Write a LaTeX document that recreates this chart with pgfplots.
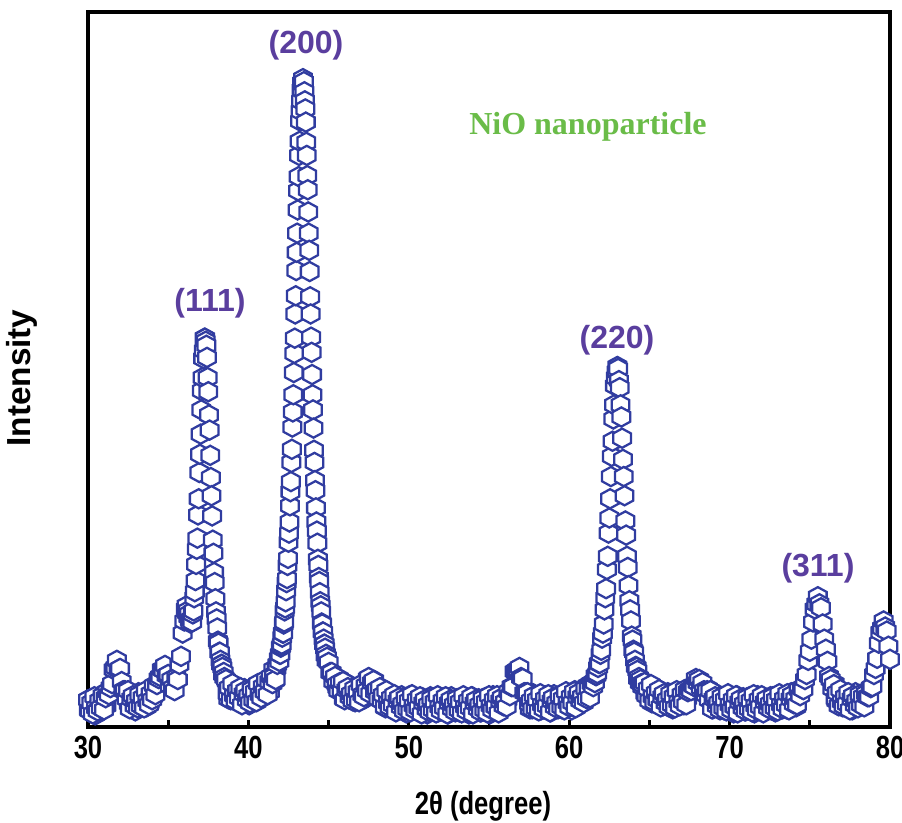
\documentclass[border=0pt]{standalone}
\usepackage{fontspec}
\setmainfont{Liberation Sans}
\newfontfamily\narrowsans[FakeStretch=0.8]{Liberation Sans}
\newfontfamily\timesfont{Liberation Serif}
\usepackage{pgfplots}
\pgfplotsset{compat=1.18}

\definecolor{hexblue}{RGB}{48,60,160}
\definecolor{peakpurple}{RGB}{90,62,158}
\definecolor{nioGreen}{RGB}{106,188,72}

% open hexagon, pointed top
\pgfdeclareplotmark{hex}{%
  \pgfpathmoveto{\pgfqpoint{0pt}{3.6pt}}%
  \pgfpathlineto{\pgfqpoint{3.3pt}{1.8pt}}%
  \pgfpathlineto{\pgfqpoint{3.3pt}{-1.8pt}}%
  \pgfpathlineto{\pgfqpoint{0pt}{-3.6pt}}%
  \pgfpathlineto{\pgfqpoint{-3.3pt}{-1.8pt}}%
  \pgfpathlineto{\pgfqpoint{-3.3pt}{1.8pt}}%
  \pgfpathclose
  \pgfusepathqfillstroke}

\pgfplotsset{hexpts/.style={only marks, mark=hex, mark options={draw=hexblue, fill=white, line width=0.85pt}}}

\begin{document}
\begin{tikzpicture}
\begin{axis}[
  scale only axis,
  width=300.75pt, height=268.125pt,
  xmin=30, xmax=80, ymin=0, ymax=708,
  axis line style={line width=1.6pt},
  xtick={30,40,...,80},
  minor xtick={35,45,...,75},
  xtick pos=bottom, ytick=\empty,
  tick align=inside,
  major tick length=2.6pt, minor tick length=2.6pt,
  tick style={line width=1pt, black},
  /pgf/number format/assume math mode=true,
  xticklabel style={font=\narrowsans\bfseries\fontsize{12}{14}\selectfont},
  xlabel={2θ (degree)},
  xlabel style={at={(axis description cs:0.4925,-0.1105)}, anchor=center, inner sep=0pt,
    font=\narrowsans\bfseries\fontsize{12}{14}\selectfont},
  ylabel={Intensity},
  ylabel style={at={(axis description cs:-0.0823,0.488)}, anchor=center, inner sep=0pt,
    rotate=0, font=\bfseries\fontsize{12.5}{15}\selectfont},
  axis on top,
]
% background scan points between the main steps
\addplot[hexpts] coordinates {
(30.05,17) (30.15,28) (30.25,20) (30.35,26) (30.45,12) (30.55,24) (30.65,30) (30.75,16) (30.85,23) (30.95,21)
(31.05,32) (31.15,21)
(32.45,31) (32.55,23) (32.65,33) (32.75,25) (32.85,30) (32.95,16) (33.05,29) (33.15,34) (33.25,20) (33.35,27)
(33.45,23) (33.55,33) (33.65,20) (33.75,30) (33.85,24) (33.95,36) (34.05,30)
(38.65,45) (38.75,28) (38.85,39) (38.95,43) (39.05,28) (39.15,34) (39.25,29) (39.35,38) (39.45,25) (39.55,33)
(39.65,27) (39.75,38) (39.85,30) (39.95,36) (40.05,22) (40.15,34) (40.25,39) (40.35,26) (40.45,34) (40.55,31)
(40.65,40) (40.75,28) (40.85,38) (40.95,33) (41.05,46) (41.15,39) (41.25,47) (41.35,35) (41.45,49) (41.55,57)
(41.65,46) (41.75,58)
(45.55,39) (45.65,48) (45.75,39) (45.85,43) (45.95,28) (46.05,39) (46.15,43) (46.25,28) (46.35,35) (46.45,30)
(46.55,39) (46.65,25) (46.75,34) (46.85,29) (46.95,40) (47.05,33) (47.15,40) (47.25,28) (47.35,41) (47.45,48)
(47.55,36) (47.65,43) (47.75,39) (47.85,46) (47.95,31) (48.05,38) (48.15,30) (48.25,39) (48.35,29) (48.45,34)
(48.55,19) (48.65,30) (48.75,34) (48.85,20) (48.95,26) (49.05,21) (49.15,30) (49.25,17) (49.35,26) (49.45,20)
(49.55,31) (49.65,22) (49.75,28) (49.85,14) (49.95,26) (50.05,31) (50.15,17) (50.25,24) (50.35,20) (50.45,29)
(50.55,16) (50.65,24) (50.75,18) (50.85,29) (50.95,21) (51.05,27) (51.15,13) (51.25,25) (51.35,30) (51.45,16)
(51.55,23) (51.65,19) (51.75,28) (51.85,15) (51.95,24) (52.05,18) (52.15,29) (52.25,21) (52.35,27) (52.45,13)
(52.55,25) (52.65,30) (52.75,16) (52.85,23) (52.95,19) (53.05,28) (53.15,15) (53.25,24) (53.35,18) (53.45,29)
(53.55,21) (53.65,27) (53.75,13) (53.85,25) (53.95,30) (54.05,16) (54.15,23) (54.25,19) (54.35,28) (54.45,15)
(54.55,24) (54.65,18) (54.75,29) (54.85,21) (54.95,27) (55.05,13) (55.15,26) (55.25,31) (55.35,17) (55.45,24)
(55.55,20) (55.65,29) (55.75,17) (55.85,27) (55.95,21) (56.05,33) (56.15,27)
(57.45,33) (57.55,18) (57.65,29) (57.75,33) (57.85,19) (57.95,25) (58.05,21) (58.15,30) (58.25,17) (58.35,26)
(58.45,20) (58.55,31) (58.65,23) (58.75,29) (58.85,15) (58.95,27) (59.05,32) (59.15,18) (59.25,25) (59.35,22)
(59.45,31) (59.55,18) (59.65,27) (59.75,21) (59.85,33) (59.95,25) (60.05,31) (60.15,17) (60.25,30) (60.35,36)
(60.45,22) (60.55,30) (60.65,27) (60.75,36) (60.85,24) (60.95,34) (61.05,29) (61.15,41) (61.25,35) (61.35,43)
(64.75,33) (64.85,43) (64.95,34) (65.05,39) (65.15,24) (65.25,35) (65.35,39) (65.45,24) (65.55,31) (65.65,26)
(65.75,35) (65.85,21) (65.95,30) (66.05,23) (66.15,34) (66.25,26) (66.35,32) (66.45,18) (66.55,30) (66.65,35)
(66.75,21) (66.85,28) (66.95,24) (67.05,34) (67.15,22) (67.25,32) (67.35,28)
(68.65,38) (68.75,28) (68.85,33) (68.95,18) (69.05,29) (69.15,33) (69.25,19) (69.35,25) (69.45,21) (69.55,30)
(69.65,17) (69.75,26) (69.85,20) (69.95,31) (70.05,23) (70.15,28) (70.25,14) (70.35,26) (70.45,31) (70.55,17)
(70.65,24) (70.75,20) (70.85,29) (70.95,16) (71.05,25) (71.15,19) (71.25,30) (71.35,22) (71.45,28) (71.55,14)
(71.65,26) (71.75,31) (71.85,17) (71.95,24) (72.05,20) (72.15,29) (72.25,16) (72.35,25) (72.45,19) (72.55,30)
(72.65,23) (72.75,29) (72.85,15) (72.95,27) (73.05,32) (73.15,18) (73.25,25) (73.35,21) (73.45,30) (73.55,18)
(73.65,28) (73.75,22) (73.85,34) (73.95,26) (74.05,33) (74.15,20) (74.25,33)
(76.55,43) (76.65,26) (76.75,31) (76.85,26) (76.95,34) (77.05,20) (77.15,29) (77.25,22) (77.35,33) (77.45,25)
(77.55,31) (77.65,17) (77.75,29) (77.85,34) (77.95,20) (78.05,27) (78.15,24) (78.25,33) (78.35,21) (78.45,31)
};
% main scan
\addplot[hexpts] coordinates {
(30.0,27) (30.1,16) (30.2,24) (30.3,13) (30.4,30) (30.5,19) (30.6,16) (30.7,26) (30.8,19) (30.9,31)
(31.0,17) (31.1,29) (31.2,35) (31.3,32) (31.4,39) (31.5,43) (31.6,57) (31.7,59) (31.8,66) (31.9,57)
(32.0,58) (32.1,45) (32.2,36) (32.3,36) (32.4,28) (32.5,36) (32.6,18) (32.7,28) (32.8,31) (32.9,21)
(33.0,26) (33.1,19) (33.2,32) (33.3,21) (33.4,29) (33.5,19) (33.6,36) (33.7,26) (33.8,22) (33.9,33)
(34.0,27) (34.1,41) (34.2,32) (34.3,42) (34.4,48) (34.5,50) (34.6,57) (34.7,56) (34.8,61) (34.9,51)
(35.0,52) (35.1,41) (35.2,47) (35.3,39) (35.4,36) (35.5,49) (35.6,47) (35.7,62) (35.8,70) (35.9,93)
(36.0,105) (36.1,117)
(36.14,120) (36.18,113) (36.22,115) (36.26,109) (36.30,112) (36.34,106) (36.38,103) (36.42,106)
(36.46,107) (36.50,104) (36.54,112) (36.58,115) (36.62,128) (36.66,134) (36.70,145) (36.74,161)
(36.78,176) (36.82,187) (36.86,210) (36.90,226) (36.94,252) (36.98,270) (37.02,290) (37.06,314)
(37.10,333) (37.14,346) (37.18,365) (37.22,373) (37.26,385) (37.30,385) (37.34,382) (37.38,378)
(37.42,366) (37.46,346) (37.50,332) (37.54,309) (37.58,294) (37.62,269) (37.66,247) (37.70,229)
(37.74,209) (37.78,185) (37.82,172) (37.86,153) (37.90,143) (37.94,127) (37.98,114) (38.02,107)
(38.06,98) (38.10,85) (38.14,83) (38.18,74) (38.22,74) (38.26,66) (38.30,62) (38.34,62)
(38.38,59) (38.42,52) (38.46,54) (38.50,49)
(38.6,47) (38.7,33) (38.8,39) (38.9,27) (39.0,43) (39.1,31) (39.2,26) (39.3,36) (39.4,29) (39.5,39)
(39.6,22) (39.7,33) (39.8,36) (39.9,27) (40.0,31) (40.1,24) (40.2,37) (40.3,27) (40.4,35) (40.5,25)
(40.6,43) (40.7,32) (40.8,29) (40.9,40) (41.0,35) (41.1,47) (41.2,32) (41.3,45) (41.4,50) (41.5,43)
(41.6,50) (41.7,47) (41.8,62)
(41.90,68) (41.93,65) (41.96,72) (41.99,72) (42.02,79) (42.05,80) (42.08,82) (42.11,89) (42.14,93)
(42.17,93) (42.20,102) (42.23,104) (42.26,115) (42.29,118) (42.32,124) (42.35,135) (42.38,143)
(42.41,147) (42.44,160) (42.47,167) (42.50,183) (42.53,192) (42.56,203) (42.59,219) (42.62,233)
(42.65,243) (42.68,262) (42.71,275) (42.74,297) (42.77,312) (42.80,329) (42.83,351) (42.86,370)
(42.89,385) (42.92,409) (42.95,427) (42.98,452) (43.01,470) (43.04,489) (43.07,512) (43.10,531)
(43.13,545) (43.16,566) (43.19,580) (43.22,600) (43.25,610) (43.28,620) (43.31,631) (43.34,638)
(43.37,637) (43.40,642) (43.43,638) (43.46,639) (43.49,629) (43.52,620) (43.55,612) (43.58,599)
(43.61,579) (43.64,566) (43.67,546) (43.70,532) (43.73,510) (43.76,489) (43.79,472) (43.82,451)
(43.85,426) (43.88,409) (43.91,386) (43.94,371) (43.97,349) (44.00,329) (44.03,314) (44.06,296)
(44.09,274) (44.12,262) (44.15,244) (44.18,234) (44.21,217) (44.24,203) (44.27,194) (44.30,182)
(44.33,166) (44.36,160) (44.39,148) (44.42,144) (44.45,133) (44.48,124) (44.51,120) (44.54,114)
(44.57,103) (44.60,102) (44.63,94) (44.66,94) (44.69,87) (44.72,82) (44.75,82) (44.78,78)
(44.81,71) (44.84,72) (44.87,66) (44.90,69)
(45.0,64) (45.1,54) (45.2,54) (45.3,45) (45.4,50) (45.5,42) (45.6,36) (45.7,44) (45.8,36) (45.9,45)
(46.0,27) (46.1,37) (46.2,39) (46.3,30) (46.4,33) (46.5,26) (46.6,38) (46.7,27) (46.8,35) (46.9,25)
(47.0,42) (47.1,32) (47.2,30) (47.3,41) (47.4,36) (47.5,49) (47.6,33) (47.7,44) (47.8,46) (47.9,35)
(48.0,37) (48.1,28) (48.2,39) (48.3,26) (48.4,32) (48.5,20) (48.6,36) (48.7,24) (48.8,20) (48.9,29)
(49.0,22) (49.1,32) (49.2,15) (49.3,26) (49.4,29) (49.5,20) (49.6,23) (49.7,16) (49.8,29) (49.9,18)
(50.0,26) (50.1,15) (50.2,32) (50.3,21) (50.4,17) (50.5,27) (50.6,19) (50.7,30) (50.8,13) (50.9,24)
(51.0,27) (51.1,18) (51.2,22) (51.3,15) (51.4,28) (51.5,17) (51.6,25) (51.7,14) (51.8,31) (51.9,20)
(52.0,16) (52.1,26) (52.2,19) (52.3,30) (52.4,13) (52.5,24) (52.6,27) (52.7,18) (52.8,22) (52.9,15)
(53.0,28) (53.1,17) (53.2,25) (53.3,14) (53.4,31) (53.5,20) (53.6,16) (53.7,26) (53.8,19) (53.9,30)
(54.0,13) (54.1,24) (54.2,27) (54.3,18) (54.4,22) (54.5,15) (54.6,28) (54.7,17) (54.8,25) (54.9,14)
(55.0,31) (55.1,21) (55.2,17) (55.3,27) (55.4,20) (55.5,31) (55.6,14) (55.7,26) (55.8,29) (55.9,21)
(56.0,25) (56.1,20) (56.2,35) (56.3,31) (56.4,40) (56.5,40) (56.6,55) (56.7,56) (56.8,57) (56.9,59)
(57.0,49) (57.1,48) (57.2,34) (57.3,34) (57.4,34) (57.5,23) (57.6,26) (57.7,18) (57.8,31) (57.9,19)
(58.0,27) (58.1,16) (58.2,33) (58.3,22) (58.4,18) (58.5,28) (58.6,21) (58.7,32) (58.8,15) (58.9,26)
(59.0,29) (59.1,20) (59.2,24) (59.3,18) (59.4,31) (59.5,20) (59.6,28) (59.7,17) (59.8,35) (59.9,24)
(60.0,20) (60.1,30) (60.2,24) (60.3,35) (60.4,19) (60.5,30) (60.6,34) (60.7,26) (60.8,30) (60.9,24)
(61.0,38) (61.1,28) (61.2,38) (61.3,29) (61.4,43)
(61.45,43) (61.50,40) (61.55,45) (61.60,44) (61.65,51) (61.70,51) (61.75,53) (61.80,59) (61.85,63)
(61.90,63) (61.95,72) (62.00,76) (62.05,88) (62.10,93) (62.15,102) (62.20,116) (62.25,128)
(62.30,137) (62.35,156) (62.40,169) (62.45,192) (62.50,207) (62.55,226) (62.60,248) (62.65,268)
(62.70,283) (62.75,305) (62.80,319) (62.85,338) (62.90,346) (62.95,352) (63.00,357) (63.05,355)
(63.10,343) (63.15,336) (63.20,319) (63.25,307) (63.30,286) (63.35,265) (63.40,248) (63.45,229)
(63.50,204) (63.55,190) (63.60,169) (63.65,158) (63.70,140) (63.75,125) (63.80,116) (63.85,105)
(63.90,90) (63.95,86) (64.00,76) (64.05,74) (64.10,66) (64.15,60) (64.20,59) (64.25,56)
(64.30,48) (64.35,49) (64.40,44) (64.45,47) (64.50,43) (64.55,40) (64.60,42)
(64.7,44) (64.8,31) (64.9,38) (65.0,26) (65.1,42) (65.2,30) (65.3,25) (65.4,34) (65.5,27) (65.6,37)
(65.7,20) (65.8,30) (65.9,33) (66.0,24) (66.1,27) (66.2,20) (66.3,33) (66.4,22) (66.5,30) (66.6,19)
(66.7,36) (66.8,25) (66.9,21) (67.0,32) (67.1,25) (67.2,37) (67.3,22) (67.4,35) (67.5,37) (67.6,36)
(67.7,41) (67.8,40) (67.9,48) (68.0,44) (68.1,47) (68.2,39) (68.3,44) (68.4,36) (68.5,32) (68.6,36)
(68.7,27) (68.8,36) (68.9,18) (69.0,28) (69.1,30) (69.2,21) (69.3,24) (69.4,17) (69.5,30) (69.6,19)
(69.7,27) (69.8,16) (69.9,33) (70.0,22) (70.1,17) (70.2,27) (70.3,20) (70.4,31) (70.5,14) (70.6,25)
(70.7,28) (70.8,19) (70.9,23) (71.0,16) (71.1,29) (71.2,18) (71.3,26) (71.4,15) (71.5,32) (71.6,21)
(71.7,17) (71.8,27) (71.9,20) (72.0,31) (72.1,14) (72.2,25) (72.3,28) (72.4,19) (72.5,23) (72.6,17)
(72.7,30) (72.8,19) (72.9,27) (73.0,16) (73.1,33) (73.2,22) (73.3,18) (73.4,28) (73.5,22) (73.6,33)
(73.7,17) (73.8,28) (73.9,32) (74.0,23) (74.1,28) (74.2,22) (74.3,37)
(74.4,31) (74.5,38) (74.6,37) (74.7,47) (74.8,52) (74.9,66) (75.0,75) (75.1,87) (75.2,104) (75.3,117)
(75.4,122) (75.5,129) (75.6,122) (75.7,118) (75.8,102) (75.9,87) (76.0,77) (76.1,65) (76.2,50) (76.3,47)
(76.4,38) (76.5,42) (76.6,28) (76.7,34) (76.8,21) (76.9,37) (77.0,25) (77.1,21) (77.2,30) (77.3,23)
(77.4,34) (77.5,17) (77.6,28) (77.7,31) (77.8,22) (77.9,26) (78.0,19) (78.1,32) (78.2,22) (78.3,30)
(78.4,20) (78.5,33) (78.6,30) (78.7,30) (78.8,39) (78.9,40) (79.0,52) (79.1,58) (79.2,68) (79.3,83)
(79.4,94) (79.5,98) (79.6,105) (79.7,99) (79.8,95) (79.9,80) (80.0,67)
};
\node[font=\bfseries\fontsize{12}{14}\selectfont, text=peakpurple, inner sep=0pt] at (axis cs:43.59,675.3) {(200)};
\node[font=\bfseries\fontsize{12}{14}\selectfont, text=peakpurple, inner sep=0pt] at (axis cs:37.61,419.8) {(111)};
\node[font=\bfseries\fontsize{12}{14}\selectfont, text=peakpurple, inner sep=0pt] at (axis cs:62.98,383.2) {(220)};
\node[font=\bfseries\fontsize{12}{14}\selectfont, text=peakpurple, inner sep=0pt] at (axis cs:75.51,157.4) {(311)};
\node[font=\timesfont\bfseries\fontsize{12}{14}\selectfont, text=nioGreen, inner sep=0pt] at (axis cs:61.17,594.1) {NiO nanoparticle};
\end{axis}
\pgfresetboundingbox
\useasboundingbox ([xshift=-33pt,yshift=-35.625pt]current axis.south west) rectangle ([xshift=4.5pt,yshift=4.5pt]current axis.north east);
\end{tikzpicture}
\end{document}
